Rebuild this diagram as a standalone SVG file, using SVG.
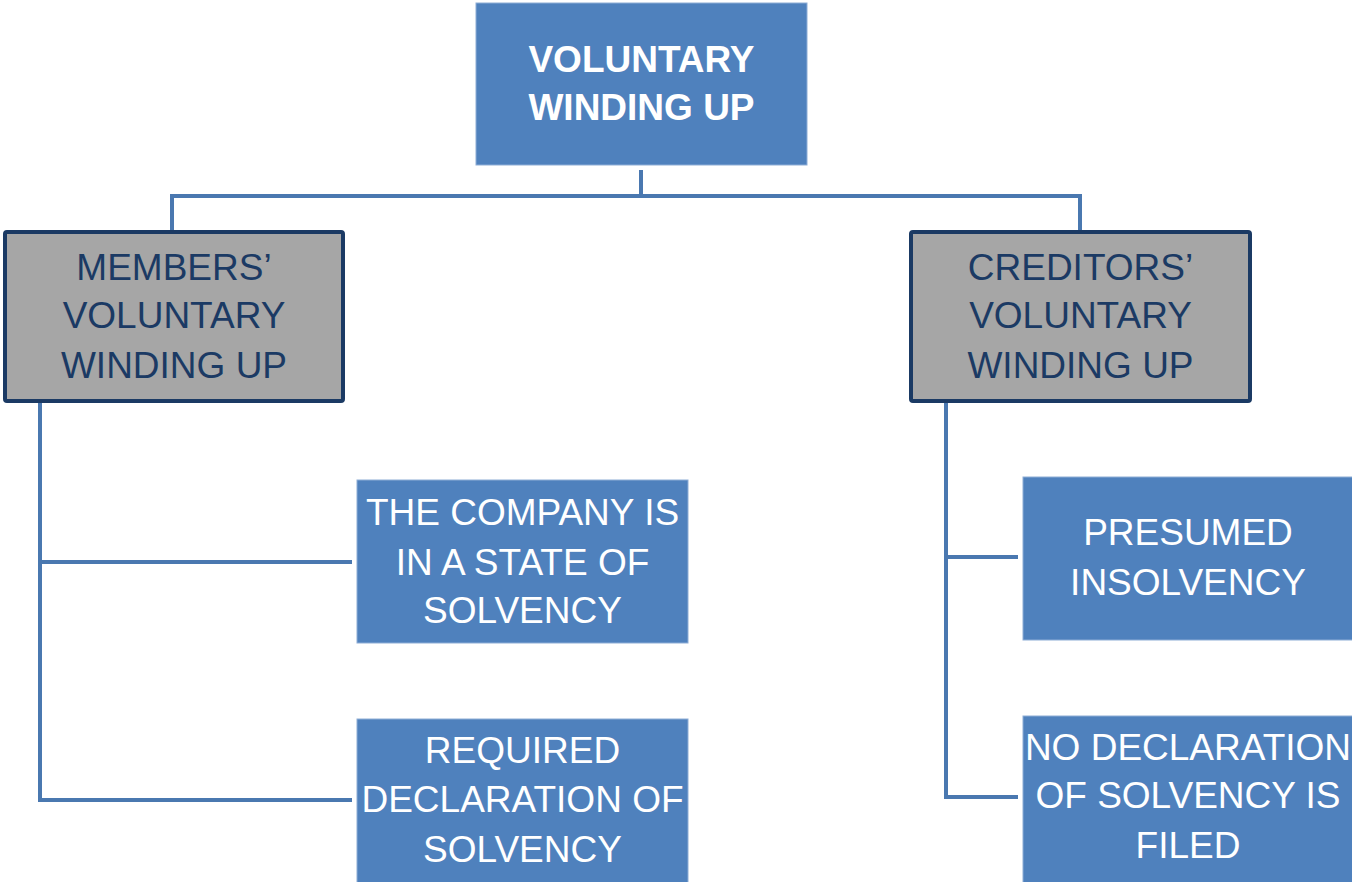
<svg xmlns="http://www.w3.org/2000/svg" width="1352" height="882" viewBox="0 0 1352 882">
  <style>
    .blue { fill: #4F81BD; stroke: #8EADD6; stroke-width: 1; }
    .grey { fill: #A6A6A6; stroke: #1B3A64; stroke-width: 4; }
    .wt { font-family: "Liberation Sans", Arial, sans-serif; font-size: 37px; fill: #FFFFFF; text-anchor: middle; }
    .wb { font-weight: bold; }
    .nt { font-family: "Liberation Sans", Arial, sans-serif; font-size: 37px; fill: #1B3A64; text-anchor: middle; }
    .conn { fill: none; stroke: #4A78B0; stroke-width: 4; stroke-linejoin: miter; }
  </style>
  <rect width="1352" height="882" fill="#FFFFFF"/>

  <g id="connectors">
    <path class="conn" d="M641 170 V196 M172 232 V196 H1080 V232"/>
    <path class="conn" d="M40 402 V800 H352 M40 562 H352"/>
    <path class="conn" d="M946 402 V797 H1018 M946 557 H1018"/>
  </g>

  <g id="voluntary-winding-up">
    <rect class="blue" x="476" y="3" width="331" height="162"/>
    <text class="wt wb" x="641.5" y="72">VOLUNTARY</text>
    <text class="wt wb" x="641.5" y="120">WINDING UP</text>
  </g>

  <g id="members-voluntary">
    <rect class="grey" x="5" y="232" width="338" height="169" rx="2"/>
    <text class="nt" x="174" y="280">MEMBERS’</text>
    <text class="nt" x="174" y="328">VOLUNTARY</text>
    <text class="nt" x="174" y="378">WINDING UP</text>
  </g>

  <g id="creditors-voluntary">
    <rect class="grey" x="911" y="232" width="339" height="169" rx="2"/>
    <text class="nt" x="1080.5" y="280">CREDITORS’</text>
    <text class="nt" x="1080.5" y="328">VOLUNTARY</text>
    <text class="nt" x="1080.5" y="378">WINDING UP</text>
  </g>

  <g id="state-of-solvency">
    <rect class="blue" x="357" y="480" width="331" height="163"/>
    <text class="wt" x="522.5" y="525">THE COMPANY IS</text>
    <text class="wt" x="522.5" y="575">IN A STATE OF</text>
    <text class="wt" x="522.5" y="623">SOLVENCY</text>
  </g>

  <g id="required-declaration">
    <rect class="blue" x="357" y="719" width="331" height="170"/>
    <text class="wt" x="522.5" y="763">REQUIRED</text>
    <text class="wt" x="522.5" y="812">DECLARATION OF</text>
    <text class="wt" x="522.5" y="862">SOLVENCY</text>
  </g>

  <g id="presumed-insolvency">
    <rect class="blue" x="1023" y="477" width="335" height="163"/>
    <text class="wt" x="1188" y="545">PRESUMED</text>
    <text class="wt" x="1188" y="595">INSOLVENCY</text>
  </g>

  <g id="no-declaration">
    <rect class="blue" x="1023" y="716" width="335" height="172"/>
    <text class="wt" x="1188" y="760">NO DECLARATION</text>
    <text class="wt" x="1188" y="808">OF SOLVENCY IS</text>
    <text class="wt" x="1188" y="858">FILED</text>
  </g>
</svg>
